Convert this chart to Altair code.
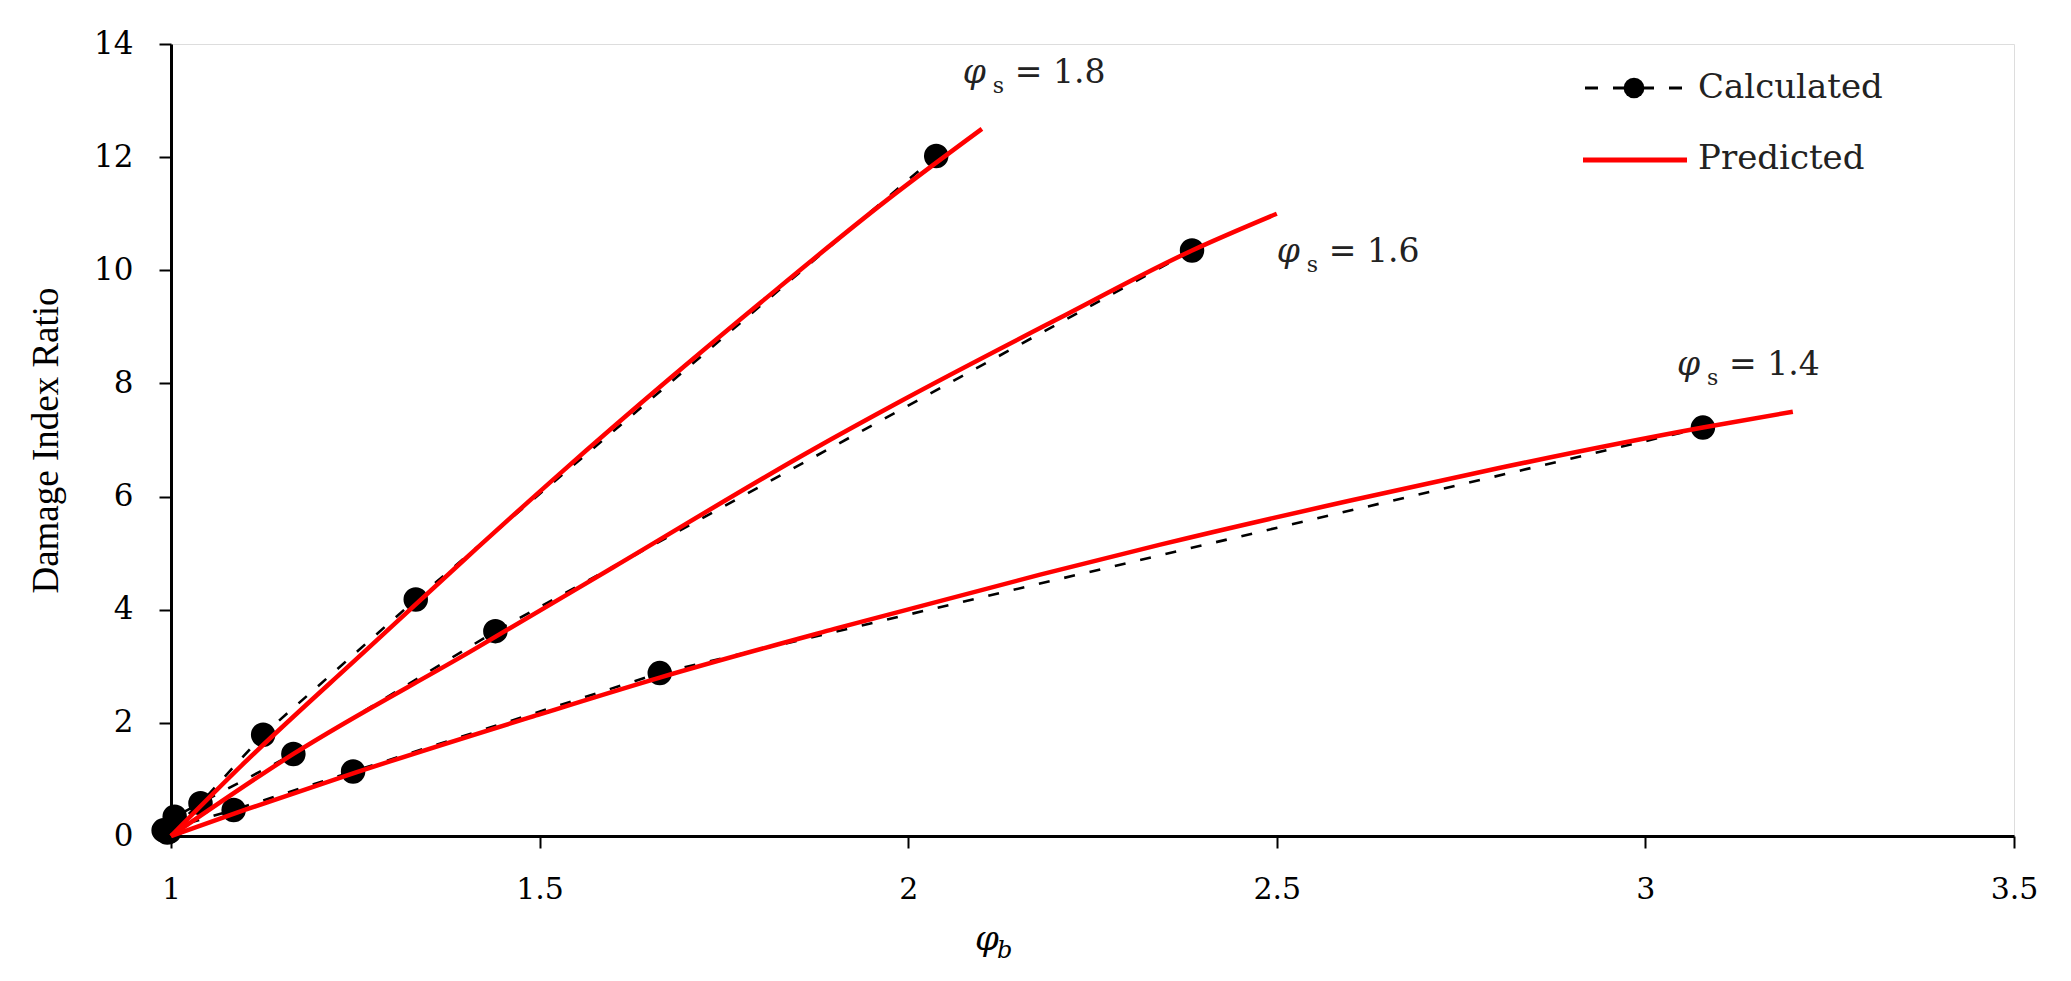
import altair as alt
import pandas as pd

# ---------------- data ----------------
series_names = ["1.4", "1.6", "1.8"]

# Calculated points (phi_b, damage index ratio)
calc_x_14 = [0.99, 1.085, 1.247, 1.663, 3.078]
calc_y_14 = [0.10, 0.46, 1.14, 2.88, 7.22]
calc_x_16 = [0.995, 1.005, 1.166, 1.44, 2.385]
calc_y_16 = [0.06, 0.34, 1.45, 3.62, 10.35]
calc_x_18 = [0.998, 1.04, 1.125, 1.332, 2.038]
calc_y_18 = [0.08, 0.58, 1.79, 4.18, 12.02]

# Predicted curves
pred_x_14 = [1.0, 1.1, 1.25, 1.5, 1.663, 1.9, 2.179, 2.342, 2.6, 2.8, 3.078, 3.2]
pred_y_14 = [0.0, 0.46, 1.12, 2.15, 2.80, 3.66, 4.62, 5.15, 5.93, 6.50, 7.22, 7.50]
pred_x_16 = [1.0, 1.166, 1.41, 1.6, 1.869, 1.989, 2.2, 2.385, 2.5]
pred_y_16 = [0.0, 1.45, 3.29, 4.75, 6.82, 7.68, 9.12, 10.35, 11.0]
pred_x_18 = [1.0, 1.1, 1.265, 1.4, 1.528, 1.677, 1.8, 1.971, 2.1]
pred_y_18 = [0.0, 1.3, 3.29, 4.91, 6.41, 8.09, 9.43, 11.24, 12.5]

# Curve annotations (phi_s = ...)
ann_x = [3.043, 2.50, 2.074]
ann_y = [8.15, 10.15, 13.31]
ann_text = ["= 1.4", "= 1.6", "= 1.8"]

x_ticks = [1, 1.5, 2, 2.5, 3, 3.5]
y_ticks = [0, 2, 4, 6, 8, 10, 12, 14]

y_title = "Damage Index Ratio"
legend_calc = "Calculated"
legend_pred = "Predicted"

# ---------------- tables ----------------
calc = pd.concat([
    pd.DataFrame({"x": calc_x_14, "y": calc_y_14, "s": series_names[0]}),
    pd.DataFrame({"x": calc_x_16, "y": calc_y_16, "s": series_names[1]}),
    pd.DataFrame({"x": calc_x_18, "y": calc_y_18, "s": series_names[2]}),
], ignore_index=True)
pred = pd.concat([
    pd.DataFrame({"x": pred_x_14, "y": pred_y_14, "s": series_names[0]}),
    pd.DataFrame({"x": pred_x_16, "y": pred_y_16, "s": series_names[1]}),
    pd.DataFrame({"x": pred_x_18, "y": pred_y_18, "s": series_names[2]}),
], ignore_index=True)
ann = pd.DataFrame({"x": ann_x, "y": ann_y, "label": ann_text})
one = pd.DataFrame({"k": [0]})

SERIF = "DejaVu Serif"
W, H = 1843, 792


def X():
    return alt.X("x:Q",
                 scale=alt.Scale(domain=[1, 3.5], nice=False, zero=False),
                 axis=alt.Axis(values=x_ticks, labelExpr="datum.value", title=None,
                               grid=False, tickSize=12, tickWidth=2, tickColor="black",
                               domainWidth=3, domainColor="black",
                               labelFont=SERIF, labelFontSize=30, labelColor="black",
                               labelPadding=26, labelFlush=False))


def Y():
    return alt.Y("y:Q",
                 scale=alt.Scale(domain=[0, 14], nice=False),
                 axis=alt.Axis(values=y_ticks, title=y_title, grid=False,
                               tickSize=12, tickWidth=2, tickColor="black",
                               domainWidth=3, domainColor="black",
                               labelFont=SERIF, labelFontSize=31, labelColor="black",
                               labelPadding=26, labelFlush=False,
                               titleFont="Liberation Serif", titleFontSize=37,
                               titleFontWeight="normal", titleColor="black",
                               titleX=-125, titleY=H / 2, titleBaseline="middle",
                               titleAngle=270))


calc_line = alt.Chart(calc).mark_line(color="black", strokeWidth=2.6,
                                      strokeDash=[11, 15], strokeCap="butt").encode(
    x=X(), y=Y(), detail="s:N")
calc_pts = alt.Chart(calc).mark_point(filled=True, shape="circle", size=600,
                                      color="black", opacity=1).encode(
    x=X(), y=Y(), detail="s:N")
pred_line = alt.Chart(pred).mark_line(color="#ff0000", strokeWidth=4.5,
                                      interpolate="monotone").encode(
    x=X(), y=Y(), detail="s:N")

ann_phi = alt.Chart(ann).mark_text(text="φ", font=SERIF, fontStyle="italic",
                                   fontSize=33, align="left", baseline="alphabetic",
                                   color="#222222").encode(x=X(), y=Y())
ann_s = alt.Chart(ann).mark_text(text="s", font=SERIF, fontSize=22, align="left",
                                 baseline="alphabetic", dx=30, dy=10,
                                 color="#222222").encode(x=X(), y=Y())
ann_eq = alt.Chart(ann).mark_text(font=SERIF, fontSize=33, align="left",
                                  baseline="alphabetic", dx=52,
                                  color="#222222").encode(x=X(), y=Y(), text="label:N")

# x-axis title  (phi_b)
xt_phi = alt.Chart(one).mark_text(text="φ", font=SERIF, fontStyle="italic", fontSize=34,
                                  align="left", baseline="alphabetic", color="black").encode(
    x=alt.value(804), y=alt.value(906))
xt_b = alt.Chart(one).mark_text(text="b", font=SERIF, fontStyle="italic", fontSize=24,
                                align="left", baseline="alphabetic", color="black").encode(
    x=alt.value(826), y=alt.value(914))

# legend
lg_calc_line = alt.Chart(one).mark_rule(color="black", strokeWidth=3, strokeDash=[13, 15],
                                        strokeCap="butt").encode(
    x=alt.value(1414), x2=alt.value(1512), y=alt.value(44))
lg_calc_pt = alt.Chart(one).mark_point(filled=True, shape="circle", size=430,
                                       color="black", opacity=1).encode(
    x=alt.value(1463), y=alt.value(44))
lg_calc_txt = alt.Chart(one).mark_text(text=legend_calc, font=SERIF, fontSize=34,
                                       align="left", baseline="middle", color="#222222").encode(
    x=alt.value(1527), y=alt.value(44))
lg_pred_line = alt.Chart(one).mark_rule(color="#ff0000", strokeWidth=5).encode(
    x=alt.value(1412), x2=alt.value(1516), y=alt.value(116))
lg_pred_txt = alt.Chart(one).mark_text(text=legend_pred, font=SERIF, fontSize=34,
                                       align="left", baseline="middle", color="#222222").encode(
    x=alt.value(1527), y=alt.value(115))

chart = alt.layer(
    calc_line, calc_pts, pred_line, ann_phi, ann_s, ann_eq, xt_phi, xt_b,
    lg_calc_line, lg_calc_pt, lg_calc_txt, lg_pred_line, lg_pred_txt
).properties(
    width=W, height=H,
    autosize=alt.AutoSizeParams(type="none"),
    padding={"left": 163, "top": 36, "right": 40, "bottom": 130},
).configure_view(stroke=None).configure(background="white")

chart.save("out.html", embed_options={"renderer": "svg", "actions": False})
